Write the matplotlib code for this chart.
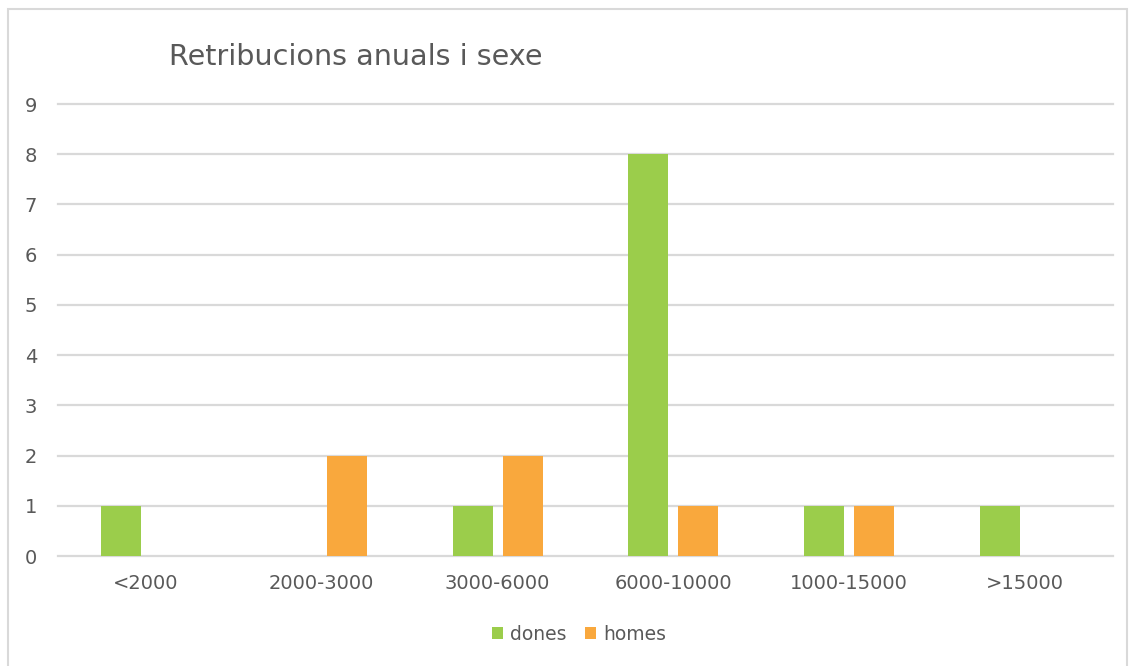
import numpy as np
import matplotlib.pyplot as plt
from matplotlib.patches import Rectangle

categories = ['<2000', '2000-3000', '3000-6000', '6000-10000', '1000-15000', '>15000']
dones = [1, 0, 1, 8, 1, 1]
homes = [0, 2, 2, 1, 1, 0]

plt.rcParams['font.family'] = ['DejaVu Sans']
grey = '#595959'
green, orange = '#9BCD4B', '#F9A83D'

fig = plt.figure(figsize=(11.31, 6.66), dpi=100)
ax = fig.add_axes([58/1131, 1 - 556/666, (1113 - 58)/1131, (556 - 104)/666])

x = np.arange(len(categories))
w, off = 0.227, 0.142
ax.bar(x - off, dones, w, color=green, label='dones', zorder=3)
ax.bar(x + off, homes, w, color=orange, label='homes', zorder=3)

ax.set_xlim(-0.5, len(categories) - 0.5)
ax.set_ylim(0, 9)
ax.set_yticks(range(10))
ax.set_xticks(x)
ax.set_xticklabels(categories)
ax.grid(axis='y', color='#D9D9D9', lw=1.6, zorder=0)
for gl in ax.get_ygridlines():
    gl.set_clip_on(False)
for s in ax.spines.values():
    s.set_visible(False)
ax.tick_params(length=0, labelsize=14, colors=grey)
ax.tick_params(axis='x', pad=13)
ax.tick_params(axis='y', pad=15)

fig.text(169/1131, 1 - 57/666, 'Retribucions anuals i sexe', fontsize=20.6, color=grey,
         va='center', ha='left')

leg = fig.legend(loc='center', bbox_to_anchor=(579/1131, 1 - 634/666), ncol=2, frameon=False,
                 fontsize=13.5, handlelength=0.6, handleheight=0.6, handletextpad=0.35,
                 columnspacing=1.0)
for t in leg.get_texts():
    t.set_color(grey)

fig.patches.append(Rectangle((8/1131, -0.01), 1119/1131, 1 - 9/666 + 0.01,
                             transform=fig.transFigure, fill=False,
                             edgecolor='#D9D9D9', lw=1.5))

fig.savefig('out.png', dpi=100)
